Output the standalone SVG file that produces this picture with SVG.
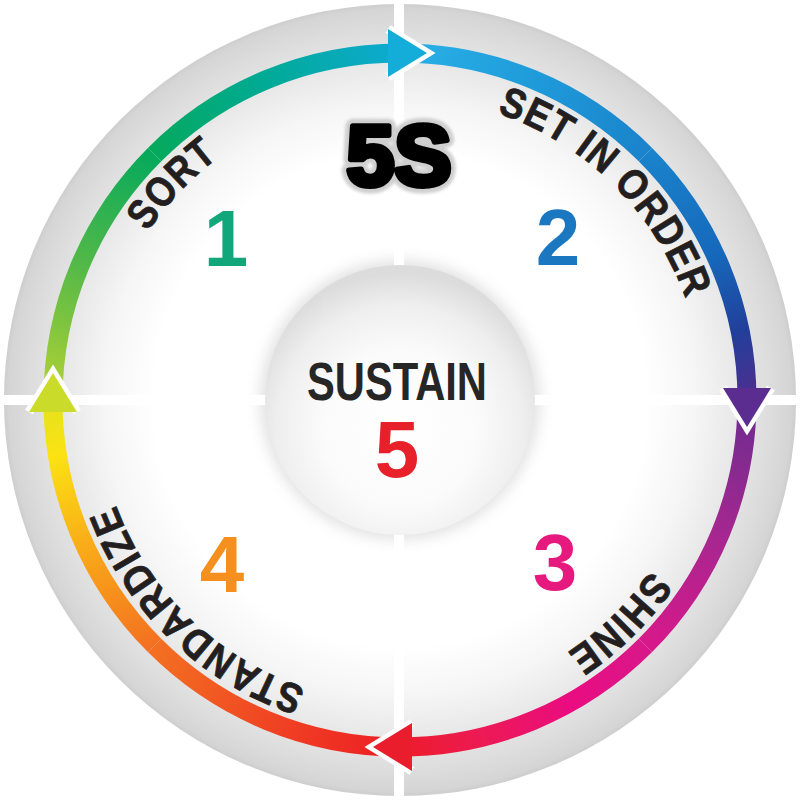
<svg xmlns="http://www.w3.org/2000/svg" width="800" height="800" viewBox="0 0 800 800">
<style>
.lbl{font-family:"Liberation Sans Narrow","Liberation Sans",Arial,sans-serif;font-weight:bold;font-size:42px;letter-spacing:1.5px;fill:#231f20;stroke:#231f20;stroke-width:0.8}
.num{font-family:"Liberation Sans",Arial,sans-serif;font-weight:bold;font-size:80px;text-anchor:middle}
.five{font-family:"Liberation Sans",Arial,sans-serif;font-weight:bold;font-size:86px;text-anchor:middle}
.band{fill:none;stroke-width:19}
</style>
<defs>
<radialGradient id="discGrad" cx="400" cy="400" r="397" gradientUnits="userSpaceOnUse">
<stop offset="0" stop-color="#ffffff"/>
<stop offset="0.62" stop-color="#ffffff"/>
<stop offset="0.74" stop-color="#f6f6f6"/>
<stop offset="0.84" stop-color="#e9e9e9"/>
<stop offset="0.93" stop-color="#dddddd"/>
<stop offset="0.985" stop-color="#d5d5d5"/>
<stop offset="1" stop-color="#cccccc"/>
</radialGradient>
<radialGradient id="hubGrad" cx="400" cy="428" r="155" gradientUnits="userSpaceOnUse">
<stop offset="0" stop-color="#ffffff"/>
<stop offset="0.5" stop-color="#fbfbfb"/>
<stop offset="0.8" stop-color="#eeeeee"/>
<stop offset="1" stop-color="#dcdcdc"/>
</radialGradient>
<filter id="blur6" x="-30%" y="-30%" width="160%" height="160%"><feGaussianBlur stdDeviation="7"/></filter>
<filter id="blur2" x="-20%" y="-20%" width="140%" height="140%"><feGaussianBlur stdDeviation="1.5"/></filter>
<clipPath id="discClip"><circle cx="400" cy="400" r="396"/></clipPath>
<path id="textCircle" d="M97,400 A303,303 0 1 1 703,400 A303,303 0 1 1 97,400" fill="none"/>
<linearGradient id="g1" gradientUnits="userSpaceOnUse" x1="400" y1="53" x2="645.4" y2="154.6"><stop offset="0" stop-color="#29b1e6"/><stop offset="0.5" stop-color="#1f9bda"/><stop offset="1" stop-color="#1a83cb"/></linearGradient>
<linearGradient id="g2" gradientUnits="userSpaceOnUse" x1="645.4" y1="154.6" x2="747" y2="400"><stop offset="0" stop-color="#1a83cb"/><stop offset="0.45" stop-color="#1668bb"/><stop offset="0.75" stop-color="#213f9a"/><stop offset="1" stop-color="#4f2e8f"/></linearGradient>
<linearGradient id="g3" gradientUnits="userSpaceOnUse" x1="747" y1="400" x2="645.4" y2="645.4"><stop offset="0" stop-color="#6b2c8f"/><stop offset="0.5" stop-color="#a52790"/><stop offset="1" stop-color="#d8188a"/></linearGradient>
<linearGradient id="g4" gradientUnits="userSpaceOnUse" x1="645.4" y1="645.4" x2="400" y2="747"><stop offset="0" stop-color="#d8188a"/><stop offset="0.35" stop-color="#ea0c80"/><stop offset="0.7" stop-color="#ec1a55"/><stop offset="1" stop-color="#ed1c2a"/></linearGradient>
<linearGradient id="g5" gradientUnits="userSpaceOnUse" x1="400" y1="747" x2="154.6" y2="645.4"><stop offset="0" stop-color="#ed1c24"/><stop offset="0.5" stop-color="#f04623"/><stop offset="1" stop-color="#f37021"/></linearGradient>
<linearGradient id="g6" gradientUnits="userSpaceOnUse" x1="154.6" y1="645.4" x2="53" y2="400"><stop offset="0" stop-color="#f37021"/><stop offset="0.45" stop-color="#f9ac18"/><stop offset="0.8" stop-color="#fbe213"/><stop offset="1" stop-color="#e5e21e"/></linearGradient>
<linearGradient id="g7" gradientUnits="userSpaceOnUse" x1="53" y1="400" x2="154.6" y2="154.6"><stop offset="0" stop-color="#b3d335"/><stop offset="0.5" stop-color="#55b947"/><stop offset="1" stop-color="#05a95c"/></linearGradient>
<linearGradient id="g8" gradientUnits="userSpaceOnUse" x1="154.6" y1="154.6" x2="400" y2="53"><stop offset="0" stop-color="#05a95c"/><stop offset="0.5" stop-color="#00aa96"/><stop offset="1" stop-color="#0eaad2"/></linearGradient>
<polyline id="chev" points="388,29 427,53 388,77" fill="none" stroke="#ffffff" stroke-width="9" stroke-miterlimit="10"/>
<polygon id="head" points="388,29 427,53 388,77"/>
</defs>

<g id="background">
<rect width="800" height="800" fill="#ffffff"/>
<circle cx="400" cy="400" r="396" fill="url(#discGrad)"/>
<circle cx="400" cy="400" r="140" fill="#b8b8b8" opacity="0.4" filter="url(#blur6)"/>
<g clip-path="url(#discClip)" fill="#ffffff">
<rect x="394" y="0" width="10" height="800"/>
<rect x="0" y="395" width="800" height="10"/>
</g>
</g>

<g id="connectors">
<path class="band" stroke="url(#g1)" d="M400,53 A347,347 0 0 1 645.4,154.6"/>
<path class="band" stroke="url(#g2)" d="M645.4,154.6 A347,347 0 0 1 747,400"/>
<path class="band" stroke="url(#g3)" d="M747,400 A347,347 0 0 1 645.4,645.4"/>
<path class="band" stroke="url(#g4)" d="M645.4,645.4 A347,347 0 0 1 400,747"/>
<path class="band" stroke="url(#g5)" d="M400,747 A347,347 0 0 1 154.6,645.4"/>
<path class="band" stroke="url(#g6)" d="M154.6,645.4 A347,347 0 0 1 53,400"/>
<path class="band" stroke="url(#g7)" d="M53,400 A347,347 0 0 1 154.6,154.6"/>
<path class="band" stroke="url(#g8)" d="M154.6,154.6 A347,347 0 0 1 400,53"/>
<g><use href="#chev"/><use href="#head" fill="#14acd9"/></g>
<g transform="rotate(90 400 400)"><use href="#chev"/><use href="#head" fill="#5c2d90"/></g>
<g transform="rotate(180 400 400)"><use href="#chev"/><use href="#head" fill="#ea1d2c"/></g>
<g transform="rotate(270 400 400)"><use href="#chev"/><use href="#head" fill="#cbdb2a"/></g>
</g>

<g id="title">
<text class="five" x="399" y="185" fill="#cfcfcf" stroke="#cfcfcf" stroke-width="15" stroke-linejoin="round" filter="url(#blur2)">5S</text>
<text class="five" x="399" y="185" fill="#000000" stroke="#000000" stroke-width="6" stroke-linejoin="round">5S</text>
</g>

<g id="step-sort">
<text class="lbl"><textPath href="#textCircle" startOffset="230" text-anchor="middle" textLength="104" lengthAdjust="spacingAndGlyphs">SORT</textPath></text>
<text class="num" x="226" y="266" fill="#12a67b">1</text>
</g>

<g id="step-set-in-order">
<text class="lbl"><textPath href="#textCircle" startOffset="712" text-anchor="middle" textLength="275" lengthAdjust="spacingAndGlyphs">SET IN ORDER</textPath></text>
<text class="num" x="558" y="265" fill="#1b77c0">2</text>
</g>

<g id="step-shine">
<text class="lbl"><textPath href="#textCircle" startOffset="1192" text-anchor="middle" textLength="119" lengthAdjust="spacingAndGlyphs">SHINE</textPath></text>
<text class="num" x="555" y="590" fill="#e6197f">3</text>
</g>

<g id="step-standardize">
<text class="lbl"><textPath href="#textCircle" startOffset="1660" text-anchor="middle" textLength="274" lengthAdjust="spacingAndGlyphs">STANDARDIZE</textPath></text>
<text class="num" x="222" y="592" fill="#f5901e">4</text>
</g>

<g id="step-sustain">
<circle cx="400" cy="400" r="135" fill="url(#hubGrad)"/>
<text x="397" y="400" text-anchor="middle" font-family="Liberation Sans, Arial, sans-serif" font-weight="bold" font-size="53" fill="#262626" textLength="180" lengthAdjust="spacingAndGlyphs">SUSTAIN</text>
<text class="num" x="397" y="477" fill="#e8202a">5</text>
</g>
</svg>
